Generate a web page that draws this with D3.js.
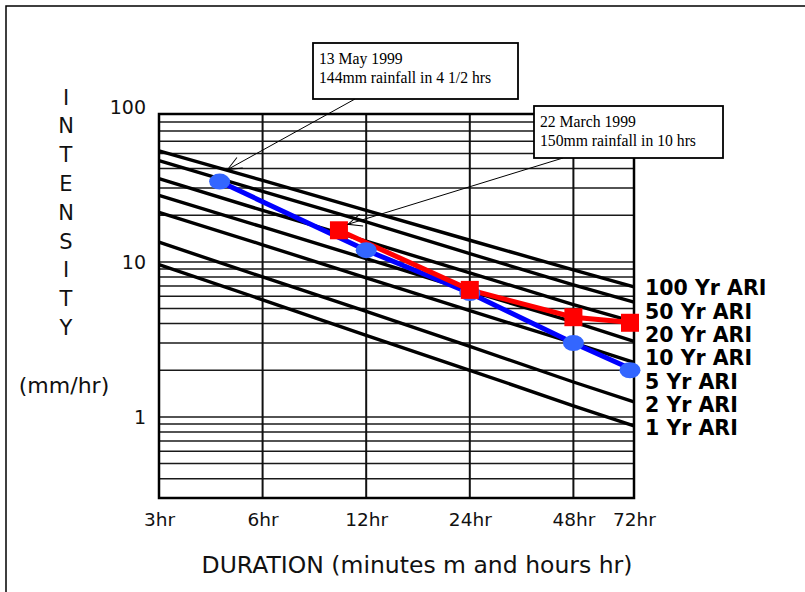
<!DOCTYPE html>
<html>
<head>
<meta charset="utf-8">
<script src="https://cdn.jsdelivr.net/npm/d3@7"></script>
<style>
  body { margin: 0; background: #fff; }
  svg { display: block; }
  .ari-label { font-family: "DejaVu Sans", sans-serif; font-weight: bold; font-size: 20.5px; fill: #000; }
  .note { font-family: "Liberation Serif", "Times New Roman", serif; font-size: 15.7px; fill: #000; }
  .title { font-family: "DejaVu Sans", sans-serif; fill: #111; }
</style>
</head>
<body>
<svg width="805" height="592"></svg>
<script>
// durations on the x axis (hours)
var durations = [3, 6, 12, 24, 48, 72];
var durationLabels = ["3hr", "6hr", "12hr", "24hr", "48hr", "72hr"];
var intensityTicks = [1, 10, 100];

// design IDF curves, intensity mm/hr at each duration
var ariNames = ["100 Yr ARI", "50 Yr ARI", "20 Yr ARI", "10 Yr ARI", "5 Yr ARI", "2 Yr ARI", "1 Yr ARI"];
var ari100 = [52, 33.6, 21.5, 13.8, 8.9, 6.9];
var ari50 = [45, 28.5, 18.1, 11.3, 7.1, 5.5];
var ari20 = [34.5, 21.5, 13.6, 8.5, 5.3, 4.1];
var ari10 = [26.9, 16.8, 10.5, 6.5, 4.1, 3.07];
var ari5 = [20.9, 12.9, 7.9, 4.85, 3.0, 2.25];
var ari2 = [13.4, 8.0, 4.8, 2.85, 1.68, 1.25];
var ari1 = [9.6, 5.7, 3.36, 2.0, 1.18, 0.875];

// observed storms
var mayHours = [4.5, 12, 24, 48, 72];
var mayIntensity = [33, 11.9, 6.3, 3.0, 2.0];
var marchHours = [10, 24, 48, 72];
var marchIntensity = [16, 6.6, 4.4, 4.05];

var mayNote = ["13 May 1999", "144mm rainfall in 4 1/2 hrs"];
var marchNote = ["22 March 1999", "150mm rainfall in 10 hrs"];

var svg = d3.select("svg");

var x = d3.scaleLog().domain([3, 72]).range([159, 634]);
var y = d3.scaleLog().domain([0.3, 90]).range([498, 114]);

// outer frame (top and left only)
svg.append("path")
  .attr("d", "M6,592 L6,6 L805,6")
  .attr("fill", "none")
  .attr("stroke", "#000")
  .attr("stroke-width", 1.5);

var grid = svg.append("g");

// horizontal log grid
grid.selectAll("line.h")
  .data(y.ticks())
  .enter()
  .append("line")
  .attr("class", "h")
  .attr("x1", x(3))
  .attr("x2", x(72))
  .attr("y1", function (d) { return y(d); })
  .attr("y2", function (d) { return y(d); })
  .attr("stroke", "#1a1a1a")
  .attr("stroke-width", 1.5);

// vertical grid at each duration
grid.selectAll("line.v")
  .data(durations)
  .enter()
  .append("line")
  .attr("class", "v")
  .attr("x1", function (d) { return x(d); })
  .attr("x2", function (d) { return x(d); })
  .attr("y1", y(90))
  .attr("y2", y(0.3))
  .attr("stroke", "#111")
  .attr("stroke-width", 2);

// border
grid.append("rect")
  .attr("x", x(3))
  .attr("y", y(90))
  .attr("width", x(72) - x(3))
  .attr("height", y(0.3) - y(90))
  .attr("fill", "none")
  .attr("stroke", "#000")
  .attr("stroke-width", 2.5);

// ARI curves
var ariSeries = [ari100, ari50, ari20, ari10, ari5, ari2, ari1];

var line = d3.line()
  .x(function (d) { return x(d[0]); })
  .y(function (d) { return y(d[1]); });

svg.append("g")
  .selectAll("path")
  .data(ariSeries)
  .enter()
  .append("path")
  .attr("d", function (s) { return line(d3.zip(durations, s)); })
  .attr("fill", "none")
  .attr("stroke", "#000")
  .attr("stroke-width", 3.4);

svg.append("g")
  .selectAll("text")
  .data(ariNames)
  .enter()
  .append("text")
  .attr("class", "ari-label")
  .attr("x", 645)
  .attr("y", function (d, i) { return 288 + i * 23.3; })
  .attr("dy", "0.36em")
  .text(function (d) { return d; });

// storm lines
var mayPts = d3.zip(mayHours, mayIntensity);
var marchPts = d3.zip(marchHours, marchIntensity);

svg.append("path")
  .attr("d", line(mayPts))
  .attr("fill", "none")
  .attr("stroke", "#0000ff")
  .attr("stroke-width", 5);

svg.append("path")
  .attr("d", line(marchPts))
  .attr("fill", "none")
  .attr("stroke", "#ff0000")
  .attr("stroke-width", 5);

svg.append("g")
  .selectAll("ellipse")
  .data(mayPts)
  .enter()
  .append("ellipse")
  .attr("cx", function (d) { return x(d[0]) - (d[0] == 72 ? 4 : 0); })
  .attr("cy", function (d) { return y(d[1]); })
  .attr("rx", 10.5)
  .attr("ry", 8)
  .attr("fill", "#3366ff");

svg.append("g")
  .selectAll("rect")
  .data(marchPts)
  .enter()
  .append("rect")
  .attr("x", function (d) { return x(d[0]) - 9 - (d[0] == 72 ? 4 : 0); })
  .attr("y", function (d) { return y(d[1]) - 9; })
  .attr("width", 18)
  .attr("height", 18)
  .attr("fill", "#ff0000");

// axes
var xAxis = d3.axisBottom(x)
  .tickValues(durations)
  .tickFormat(function (d, i) { return durationLabels[i]; })
  .tickSize(0)
  .tickPadding(15);

var yAxis = d3.axisLeft(y)
  .tickValues(intensityTicks)
  .tickFormat(d3.format("d"))
  .tickSize(0)
  .tickPadding(13);

svg.append("g")
  .attr("transform", "translate(0," + y(0.3) + ")")
  .call(xAxis)
  .attr("font-family", "'DejaVu Sans', sans-serif")
  .attr("font-size", 18.5)
  .call(function (g) { g.select(".domain").remove(); })
  .selectAll("text")
  .attr("fill", "#111");

svg.append("g")
  .attr("transform", "translate(" + x(3) + ",0)")
  .call(yAxis)
  .attr("font-family", "'DejaVu Sans', sans-serif")
  .attr("font-size", 19)
  .call(function (g) { g.select(".domain").remove(); })
  .selectAll("text")
  .attr("fill", "#111");

// axis titles
svg.selectAll("text.letter")
  .data("INTENSITY".split(""))
  .enter()
  .append("text")
  .attr("class", "letter title")
  .attr("x", 66)
  .attr("y", function (d, i) { return 97 + i * 28.8; })
  .attr("dy", "0.36em")
  .attr("text-anchor", "middle")
  .attr("font-size", 21)
  .text(function (d) { return d; });

svg.append("text")
  .attr("class", "title")
  .attr("x", 64)
  .attr("y", 385)
  .attr("dy", "0.36em")
  .attr("text-anchor", "middle")
  .attr("font-size", 22)
  .text("(mm/hr)");

svg.append("text")
  .attr("class", "title")
  .attr("x", 417)
  .attr("y", 565)
  .attr("dy", "0.36em")
  .attr("text-anchor", "middle")
  .attr("font-size", 23.5)
  .text("DURATION (minutes m and hours hr)");

// callouts
svg.append("defs").append("marker")
  .attr("id", "arrow")
  .attr("markerUnits", "userSpaceOnUse")
  .attr("viewBox", "-15 -8 16 16")
  .attr("refX", 0)
  .attr("refY", 0)
  .attr("markerWidth", 16)
  .attr("markerHeight", 16)
  .attr("orient", "auto")
  .append("path")
  .attr("d", "M-14,-6 L0,0 L-14,6")
  .attr("fill", "none")
  .attr("stroke", "#000")
  .attr("stroke-width", 1);

function callout(lines, bx, by, bw, bh, fromX, tipX, tipY) {
  svg.append("line")
    .attr("x1", fromX)
    .attr("y1", by + bh)
    .attr("x2", tipX)
    .attr("y2", tipY)
    .attr("stroke", "#000")
    .attr("stroke-width", 1)
    .attr("marker-end", "url(#arrow)");

  svg.append("rect")
    .attr("x", bx)
    .attr("y", by)
    .attr("width", bw)
    .attr("height", bh)
    .attr("fill", "#fff")
    .attr("stroke", "#000")
    .attr("stroke-width", 1.8);

  svg.selectAll(null)
    .data(lines)
    .enter()
    .append("text")
    .attr("class", "note")
    .attr("x", bx + 6)
    .attr("y", function (d, i) { return by + 15 + i * 19.5; })
    .attr("dy", "0.36em")
    .text(function (d) { return d; });
}

callout(mayNote, 313, 43, 205, 56, 355, x(mayHours[0]) + 8, y(mayIntensity[0]) - 12);
callout(marchNote, 534, 106, 189, 52, 563, x(marchHours[0]) + 9, y(marchIntensity[0]) - 6);
</script>
</body>
</html>
